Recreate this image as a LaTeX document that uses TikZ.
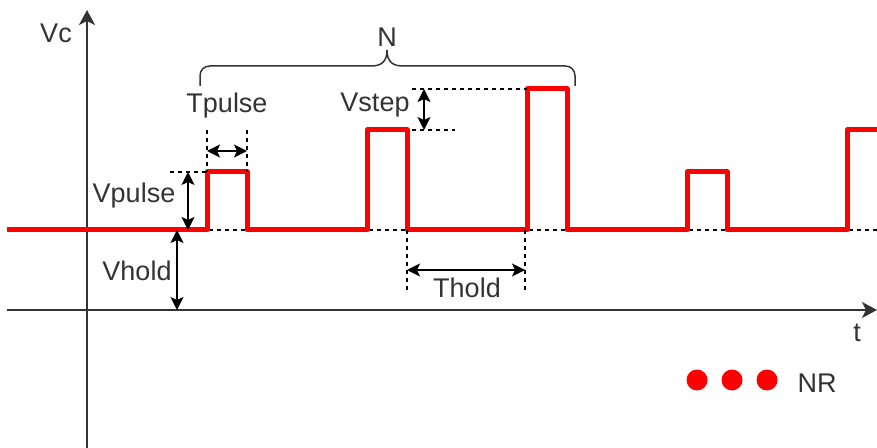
\documentclass[tikz,border=0pt]{standalone}
\usepackage{fontspec}
\setmainfont{Liberation Sans}
\usetikzlibrary{arrows.meta, calc}
\definecolor{labelgray}{RGB}{51,51,51}
\begin{document}
\begin{tikzpicture}[x=0.5pt,y=-0.5pt]
      \tikzset{axis line/.style={line width=1pt,
          draw=labelgray,
          -{Stealth[length=7.5pt,width=8pt,inset=2pt]}},
        dim arrow/.style={line width=0.8pt,
          {Stealth[length=6.5pt,width=6.5pt,inset=1.5pt]}-{Stealth[length=6.5pt,width=6.5pt,inset=1.5pt]}},
        guide line/.style={line width=0.6pt, dash pattern=on 2pt off 2pt},
        pulse line/.style={line width=2.5pt, red, line join=round},
        brace line/.style={line width=0.75pt, draw=labelgray},
        label text/.style={text=labelgray, inner sep=0pt, anchor=base,
          font=\fontsize{13.5}{16}\selectfont},
        rep dot/.style={circle, fill=red, inner sep=0pt, minimum size=10.5pt}
      }
      \useasboundingbox (0,0) rectangle (877,448);

      % axes
      \coordinate (vbot) at (87,448);
      \coordinate (vtop) at (87,10);
      \coordinate (hleft) at (7,310);
      \coordinate (hright) at (877,310);
      \draw [axis line] (vbot)--(vtop);
      \draw [axis line] (hleft)--(hright);
      \node [label text] (Vc) at (56,43) {Vc};
      \node [label text] (t) at (857,342) {t};

      % hold level and pulse levels
      \coordinate (hold a) at (177,230);
      \coordinate (hold b) at (877,230);
      \coordinate (hold c) at (177,310);
      \draw [guide line] (hold a)--(hold b);

      % pulse train
      \draw [pulse line] (7,230)--(207,230)--(207,172)--(247,172)--(247,230)
        --(367,230)--(367,130)--(407,130)--(407,230)
        --(527,230)--(527,89)--(567,89)--(567,230)
        --(687,230)--(687,172)--(727,172)--(727,230)
        --(847,230)--(847,130)--(877,130);

      % Tpulse
      \coordinate (tp a) at (207,130);
      \coordinate (tp b) at (207,172);
      \coordinate (tp c) at (247,130);
      \coordinate (tp d) at (247,172);
      \draw [guide line] (tp a)--(tp b);
      \draw [guide line] (tp c)--(tp d);
      \draw [dim arrow] (207,151)--(247,151);
      \node [label text] (Tpulse) at (227,113) {Tpulse};

      % Vpulse
      \coordinate (vp a) at (170,172);
      \draw [guide line] (vp a)--(tp b);
      \draw [dim arrow] (188,172)--(188,230);
      \node [label text] (Vpulse) at (134,203) {Vpulse};

      % Vhold
      \draw [dim arrow] (hold a)--(hold c);
      \node [label text] (Vhold) at (137,281) {Vhold};

      % Vstep
      \coordinate (vs a) at (412,89);
      \coordinate (vs b) at (527,89);
      \coordinate (vs c) at (412,130);
      \coordinate (vs d) at (455,130);
      \draw [guide line] (vs a)--(vs b);
      \draw [guide line] (vs c)--(vs d);
      \draw [dim arrow] (424,89)--(424,130);
      \node [label text] (Vstep) at (375,112) {Vstep};

      % Thold
      \coordinate (th a) at (407,230);
      \coordinate (th b) at (407,292);
      \coordinate (th c) at (525,230);
      \coordinate (th d) at (525,292);
      \draw [guide line] (th a)--(th b);
      \draw [guide line] (th c)--(th d);
      \draw [dim arrow] (407,270)--(525,270);
      \node [label text] (Thold) at (467,298) {Thold};

      % N brace
      \coordinate (br left) at (200,86);
      \coordinate (br tip) at (387,50);
      \coordinate (br right) at (575,86);
      \draw [brace line] (br left)--(200,76) .. controls (200,70) and (204,66) .. (210,66)
        --(371,66) .. controls (381,66) and (387,62) .. (br tip)
        .. controls (387,62) and (393,66) .. (403,66)
        --(565,66) .. controls (571,66) and (575,70) .. (575,76)--(br right);
      \node [label text] (N) at (387,47) {N};

      % repetitions
      \node [rep dot] (dot a) at (697,380) {};
      \node [rep dot] (dot b) at (732,380) {};
      \node [rep dot] (dot c) at (767,380) {};
      \node [label text] (NR) at (817,392) {NR};
    \end{tikzpicture}
\end{document}
